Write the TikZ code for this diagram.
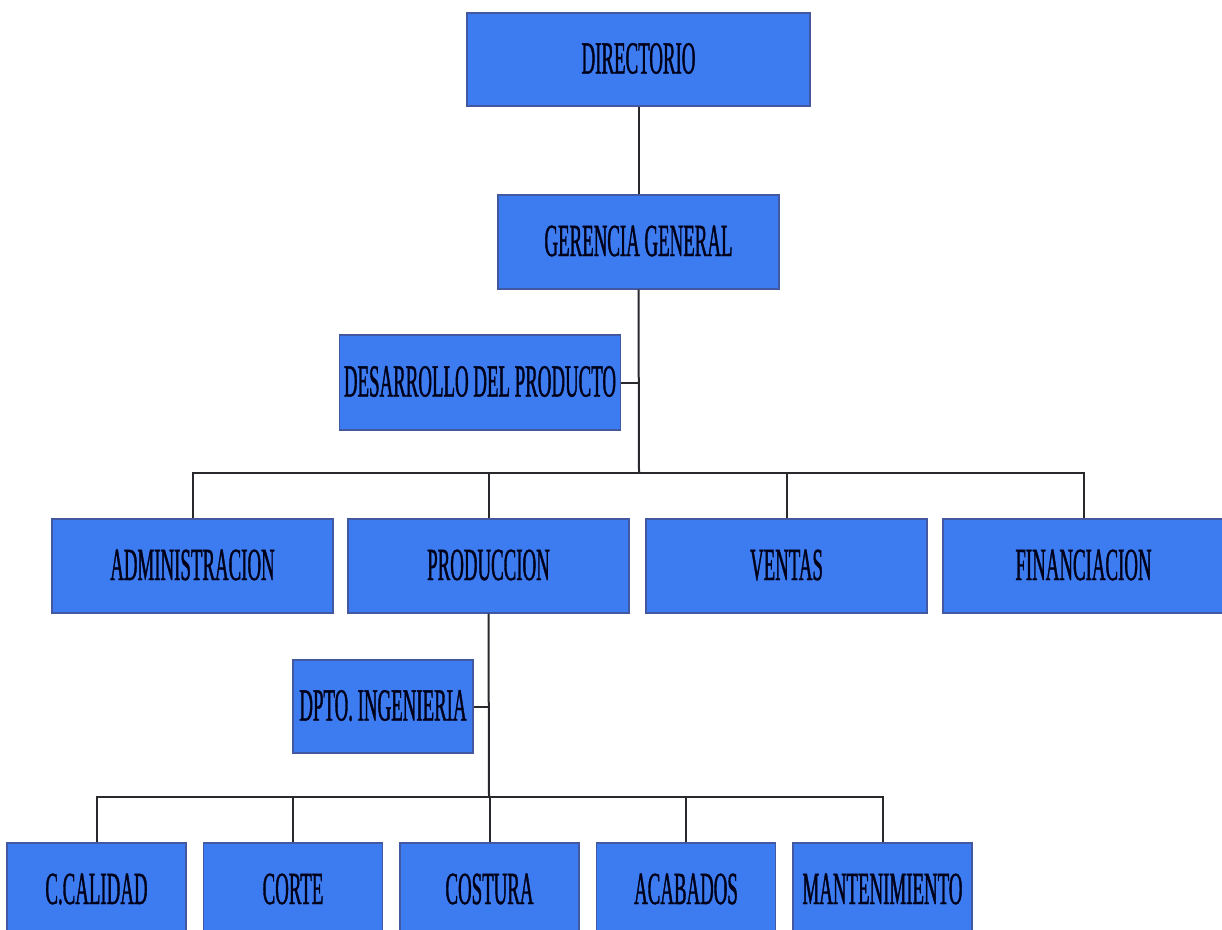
\documentclass[tikz,border=0pt]{standalone}
\usepackage{fontspec}
\newfontfamily\orgfont[FakeStretch=0.41,FakeBold=0.8]{Liberation Serif}
\definecolor{boxblue}{RGB}{60,124,240}
\definecolor{boxedge}{RGB}{66,88,160}
\definecolor{wire}{RGB}{40,40,45}
\begin{document}
\begin{tikzpicture}[x=1pt,y=-1pt,
  unit/.style={draw=boxedge,line width=1.2pt,fill=boxblue,inner sep=0pt,
    text height=31pt,text depth=3pt,align=center,
    font=\orgfont\fontsize{46}{46}\selectfont,text=black!90!blue},
  wide/.style={unit,minimum width=281pt,minimum height=94pt},
  narrow/.style={unit,minimum width=179pt,minimum height=94pt},
  conn/.style={draw=wire,line width=2pt}]
\useasboundingbox (0,0) rectangle (1222,929);

% top of the chart
\node[unit,minimum width=343pt,minimum height=93pt] (dir) at (638.5,59.5) {DIRECTORIO};
\node[wide] (ger) at (638.5,242) {GERENCIA GENERAL};
\node[wide,minimum height=95pt] (des) at (480,382.5) {DESARROLLO DEL PRODUCTO};

% departments
\node[wide] (adm) at (192.5,566) {ADMINISTRACION};
\node[wide] (pro) at (488.5,566) {PRODUCCION};
\node[wide] (ven) at (786.5,566) {VENTAS};
\node[wide] (fin) at (1083.5,566) {FINANCIACION};

% production area
\node[unit,minimum width=180pt,minimum height=93pt] (ing) at (383,706.5) {DPTO. INGENIERIA};
\node[narrow] (cal) at (96.5,890) {C.CALIDAD};
\node[narrow] (cor) at (293,890) {CORTE};
\node[narrow] (cos) at (489.5,890) {COSTURA};
\node[narrow] (aca) at (686,890) {ACABADOS};
\node[narrow] (man) at (882.5,890) {MANTENIMIENTO};

% upper connectors
\coordinate (busA) at (639,473);
\draw[conn] (dir.south) -- (ger.north);
\draw[conn] (ger.south) -- (busA);
\draw[conn] (des.east) -- (des.east -| busA);
\draw[conn] (adm.north) |- (busA) -| (fin.north);
\draw[conn] (pro.north) -- (pro.north |- busA);
\draw[conn] (ven.north) -- (ven.north |- busA);

% lower connectors
\coordinate (busB) at (489,797);
\draw[conn] (pro.south) -- (busB);
\draw[conn] (ing.east) -- (ing.east -| busB);
\draw[conn] (cal.north) |- (busB) -| (man.north);
\draw[conn] (cor.north) -- (cor.north |- busB);
\draw[conn] (cos.north) -- (cos.north |- busB);
\draw[conn] (aca.north) -- (aca.north |- busB);
\end{tikzpicture}
\end{document}
